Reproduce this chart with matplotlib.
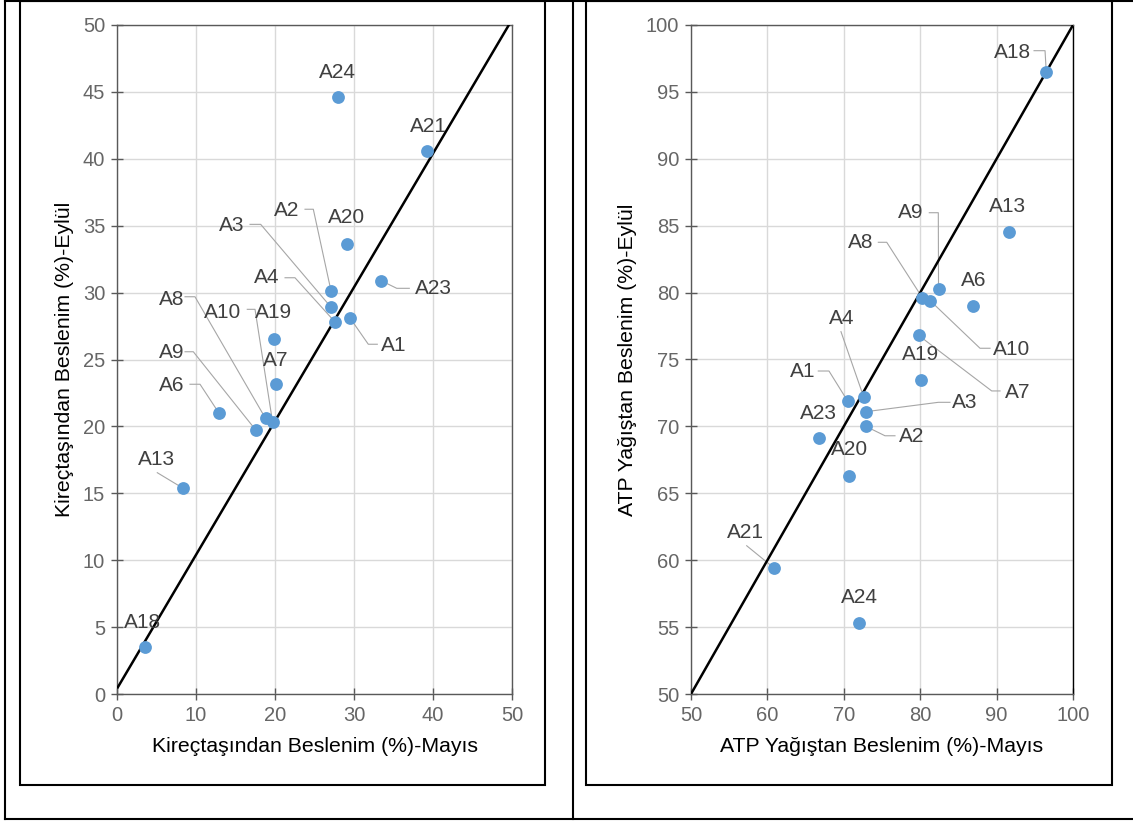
import matplotlib

matplotlib.use('Agg')
import matplotlib.pyplot as plt
from matplotlib.lines import Line2D
from matplotlib.patches import Rectangle

plt.rcParams['font.family'] = ['Liberation Sans', 'DejaVu Sans']

# istasyon adlari
names = ['A1', 'A2', 'A3', 'A4', 'A6', 'A7', 'A8', 'A9', 'A10',
         'A13', 'A18', 'A19', 'A20', 'A21', 'A23', 'A24']

# Kirectasindan beslenim (%) - Mayis / Eylul
kirec_mayis = [29.5, 27.1, 27.1, 27.6, 12.9, 20.1, 18.8, 17.6, 19.7,
               8.3, 3.5, 19.9, 29.1, 39.2, 33.4, 28.0]
kirec_eylul = [28.1, 30.1, 28.9, 27.8, 21.0, 23.2, 20.6, 19.7, 20.3,
               15.4, 3.5, 26.5, 33.6, 40.6, 30.9, 44.6]

# ATP yagistan beslenim (%) - Mayis / Eylul
atp_mayis = [70.5, 72.9, 72.9, 72.6, 86.9, 79.8, 80.3, 82.4, 81.3,
             91.6, 96.5, 80.1, 70.7, 60.9, 66.7, 72.0]
atp_eylul = [71.9, 70.0, 71.1, 72.2, 79.0, 76.8, 79.6, 80.3, 79.4,
             84.5, 96.5, 73.5, 66.3, 59.4, 69.1, 55.3]

# 1:1 cizgileri
kirec_line_x = [0.1, 49.6]
kirec_line_y = [0.5, 50]
atp_line_x = [50.1, 100]
atp_line_y = [50.1, 100]

# etiket konumlari (veri koordinatinda) ve kilavuz cizgi noktalari
kirec_labels = {
    'A24': ((27.85, 46.45), None),
    'A21': ((39.4, 42.4), None),
    'A20': ((29.1, 35.6), None),
    'A2': ((21.5, 36.1), [(23.8, 36.23), (24.85, 36.23)]),
    'A3': ((14.55, 35.05), [(16.84, 35.1), (18.19, 35.1)]),
    'A4': ((19.0, 31.1), [(21.27, 31.11), (22.53, 31.11)]),
    'A23': ((40.0, 30.27), [(37.0, 30.32), (35.41, 30.32)]),
    'A1': ((35.06, 26.08), [(32.95, 26.14), (31.81, 26.14)]),
    'A8': ((6.96, 29.52), [(8.61, 29.69), (9.87, 29.69)]),
    'A10': ((13.42, 28.55), [(16.49, 28.75), (17.47, 28.75)]),
    'A19': ((19.75, 28.48), None),
    'A7': ((20.13, 24.96), None),
    'A9': ((6.96, 25.56), [(8.61, 25.58), (9.66, 25.58)]),
    'A6': ((6.96, 23.02), [(9.24, 23.15), (10.51, 23.15)]),
    'A13': ((5.06, 17.56), [(5.1, 16.54)]),
    'A18': ((3.29, 5.38), None),
}
atp_labels = {
    'A18': ((92.02, 97.96), [(94.9, 98.08), (96.34, 98.08)]),
    'A13': ((91.49, 86.4), None),
    'A9': ((78.8, 85.95), [(81.19, 85.97), (82.37, 85.97)]),
    'A8': ((72.25, 83.71), [(74.52, 83.76), (75.62, 83.76)]),
    'A6': ((87.04, 80.94), None),
    'A10': ((92.02, 75.78), [(89.14, 75.84), (87.83, 75.84)]),
    'A7': ((92.8, 72.57), [(90.45, 72.65), (89.36, 72.65)]),
    'A19': ((80.1, 75.41), None),
    'A4': ((69.76, 78.1), [(69.63, 77.08)]),
    'A1': ((64.66, 74.07), [(66.66, 74.14), (68.06, 74.14)]),
    'A3': ((85.86, 71.75), [(83.9, 71.8), (82.37, 71.8)]),
    'A2': ((78.93, 69.21), [(76.7, 69.3), (75.39, 69.3)]),
    'A23': ((66.62, 70.93), None),
    'A20': ((70.81, 68.31), None),
    'A21': ((57.07, 62.09), [(57.29, 61.08)]),
    'A24': ((71.99, 57.2), None),
}

W, H = 1133, 823
fig = plt.figure(figsize=(W / 100, H / 100), dpi=100)


def px(x0, y0, x1, y1):
    # piksel -> sekil koordinati [sol, alt, genislik, yukseklik]
    return [x0 / W, 1 - y1 / H, (x1 - x0) / W, (y1 - y0) / H]


def draw_panel(ax, xs, ys, labels, line_x, line_y, lim, xlabel, ylabel):
    ax.set_xlim(lim)
    ax.set_ylim(lim)
    ax.set_xticks(range(lim[0], lim[1] + 1, 10))
    ax.set_yticks(range(lim[0], lim[1] + 1, 5))
    ax.grid(True, color='#d9d9d9', lw=1)
    ax.set_axisbelow(True)
    for s in ax.spines.values():
        s.set_color('#595959')
        s.set_linewidth(1)
    ax.tick_params(direction='inout', length=9, width=1, color='#595959',
                   labelcolor='#666666', labelsize=14.5, pad=4)
    ax.plot(line_x, line_y, color='black', lw=1.8, zorder=3)
    for n, x, y in zip(names, xs, ys):
        (tx, ty), lead = labels[n]
        if lead:
            lx = [x] + [p[0] for p in lead[::-1]]
            ly = [y] + [p[1] for p in lead[::-1]]
            ax.plot(lx, ly, color='#a6a6a6', lw=0.8, zorder=2)
        ax.text(tx, ty, n, ha='center', va='center', fontsize=15,
                color='#404040', zorder=5)
    ax.scatter(xs, ys, s=85, color='#5b9bd5', zorder=4, linewidths=0)
    ax.set_xlabel(xlabel, fontsize=15.3, color='black', labelpad=9)
    ax.set_ylabel(ylabel, fontsize=15.3, color='black', labelpad=6)


ax1 = fig.add_axes(px(117, 25, 512, 694))
draw_panel(ax1, kirec_mayis, kirec_eylul, kirec_labels, kirec_line_x, kirec_line_y,
           (0, 50), 'Kireçtaşından Beslenim (%)-Mayıs', 'Kireçtaşından Beslenim (%)-Eylül')

ax2 = fig.add_axes(px(691, 25, 1073, 694))
draw_panel(ax2, atp_mayis, atp_eylul, atp_labels, atp_line_x, atp_line_y,
           (50, 100), 'ATP Yağıştan Beslenim (%)-Mayıs', 'ATP Yağıştan Beslenim (%)-Eylül')
ax2.spines['right'].set_color('black')

# tablo cercevesi
def fline(x0, y0, x1, y1):
    fig.add_artist(Line2D([x0 / W, x1 / W], [1 - y0 / H, 1 - y1 / H],
                          color='black', lw=1.5, transform=fig.transFigure))


fline(5, 1, 1133, 1)
fline(5, 1, 5, 819)
fline(5, 819, 1133, 819)
fline(573, 1, 573, 819)
for x0, x1 in [(20, 545), (586, 1112)]:
    fig.add_artist(Rectangle((x0 / W, 1 - 785 / H), (x1 - x0) / W, 784 / H,
                             fill=False, ec='black', lw=1.5, transform=fig.transFigure))

fig.savefig('out.png', dpi=100)
